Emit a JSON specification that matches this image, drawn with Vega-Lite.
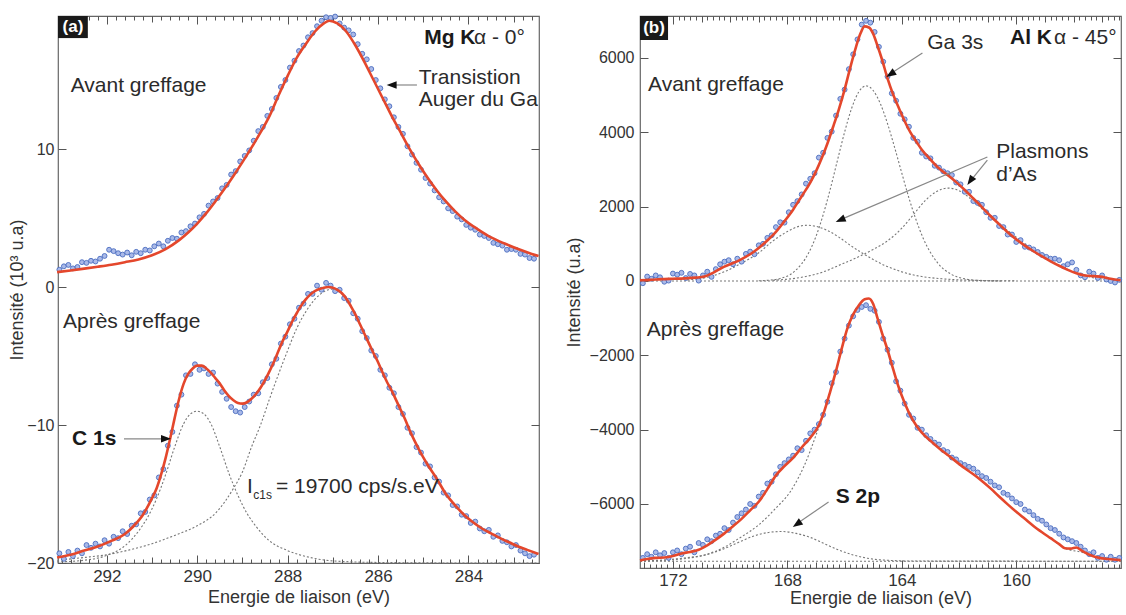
{
"$schema": "https://vega.github.io/schema/vega-lite/v6.json",
"background": "white",
"padding": {"left": 8, "top": 11, "right": 0, "bottom": 0},
"spacing": 19,
"config": {
  "view": {"stroke": "#666", "strokeWidth": 1.2},
  "font": "Liberation Sans",
  "axis": {"domain": false, "grid": false, "labelFont": "Liberation Sans", "labelFontSize": 16, "labelColor": "#333", "titleFont": "Liberation Sans", "titleFontSize": 18, "titleFontWeight": "normal", "titleColor": "#333", "tickColor": "#555", "tickWidth": 1},
  "axisX": {"labelFontSize": 17}
},
"datasets": {
  "a_box": [{"x":293.08,"x2":292.42,"y":19.64,"y2":18.04}],
  "a_lab": [{"x":292.75,"y":18.84,"t":"(a)"}],
  "a_bold": [{"x":284.98,"y":18.04,"t":"Mg K"},{"x":292.77,"y":-11.0,"t":"C 1s"}],
  "a_txt": [{"x":283.88,"y":18.04,"t":"α - 0°"},{"x":292.8,"y":14.57,"t":"Avant greffage"},{"x":285.1,"y":15.17,"t":"Transistion"},{"x":285.1,"y":13.55,"t":"Auger du Ga"},{"x":292.97,"y":-2.54,"t":"Après greffage"},{"x":288.9,"y":-14.49,"t":"I"},{"x":288.26,"y":-14.49,"t":"= 19700 cps/s.eV"}],
  "a_sub": [{"x":288.76,"y":-15.1,"t":"c1s"}],
  "a_arrows": [{"x":285.14,"y":14.64,"x2":285.76,"y2":14.64},{"x":291.62,"y":-11.0,"x2":290.62,"y2":-11.0}],
  "a_heads": [{"x":285.81,"y":14.64,"a":0},{"x":290.58,"y":-11.0,"a":180}],
  "a_fit": [
    {"s":"t","x":293.1,"y":1.08},{"s":"t","x":292.8,"y":1.2},{"s":"t","x":292.5,"y":1.33},{"s":"t","x":292.2,"y":1.47},{"s":"t","x":291.9,"y":1.62},{"s":"t","x":291.6,"y":1.8},{"s":"t","x":291.3,"y":2.0},{"s":"t","x":291.0,"y":2.3},{"s":"t","x":290.7,"y":2.75},{"s":"t","x":290.4,"y":3.4},{"s":"t","x":290.2,"y":3.95},{"s":"t","x":290.0,"y":4.6},{"s":"t","x":289.8,"y":5.35},{"s":"t","x":289.6,"y":6.2},{"s":"t","x":289.4,"y":7.1},{"s":"t","x":289.2,"y":8.05},{"s":"t","x":289.0,"y":9.05},{"s":"t","x":288.8,"y":10.1},{"s":"t","x":288.6,"y":11.2},{"s":"t","x":288.4,"y":12.4},{"s":"t","x":288.2,"y":13.9},{"s":"t","x":288.0,"y":15.3},{"s":"t","x":287.8,"y":16.6},{"s":"t","x":287.6,"y":17.6},{"s":"t","x":287.4,"y":18.5},{"s":"t","x":287.2,"y":19.1},{"s":"t","x":287.08,"y":19.3},{"s":"t","x":286.9,"y":19.1},{"s":"t","x":286.7,"y":18.5},{"s":"t","x":286.5,"y":17.5},{"s":"t","x":286.3,"y":16.3},{"s":"t","x":286.1,"y":15.0},{"s":"t","x":285.9,"y":13.7},{"s":"t","x":285.7,"y":12.4},{"s":"t","x":285.5,"y":11.2},{"s":"t","x":285.3,"y":10.0},{"s":"t","x":285.1,"y":8.9},{"s":"t","x":284.9,"y":7.9},{"s":"t","x":284.7,"y":7.0},{"s":"t","x":284.5,"y":6.2},{"s":"t","x":284.3,"y":5.5},{"s":"t","x":284.1,"y":4.9},{"s":"t","x":283.8,"y":4.2},{"s":"t","x":283.5,"y":3.6},{"s":"t","x":283.2,"y":3.15},{"s":"t","x":282.9,"y":2.75},{"s":"t","x":282.6,"y":2.4},{"s":"t","x":282.45,"y":2.25},
    {"s":"b","x":293.1,"y":-19.6},{"s":"b","x":292.8,"y":-19.4},{"s":"b","x":292.5,"y":-19.1},{"s":"b","x":292.2,"y":-18.8},{"s":"b","x":291.9,"y":-18.4},{"s":"b","x":291.6,"y":-17.9},{"s":"b","x":291.4,"y":-17.3},{"s":"b","x":291.2,"y":-16.5},{"s":"b","x":291.0,"y":-15.3},{"s":"b","x":290.9,"y":-14.6},{"s":"b","x":290.8,"y":-13.6},{"s":"b","x":290.7,"y":-12.4},{"s":"b","x":290.6,"y":-11.0},{"s":"b","x":290.5,"y":-9.5},{"s":"b","x":290.4,"y":-8.1},{"s":"b","x":290.3,"y":-7.0},{"s":"b","x":290.2,"y":-6.3},{"s":"b","x":290.1,"y":-5.9},{"s":"b","x":290.0,"y":-5.7},{"s":"b","x":289.9,"y":-5.7},{"s":"b","x":289.8,"y":-5.9},{"s":"b","x":289.7,"y":-6.2},{"s":"b","x":289.6,"y":-6.6},{"s":"b","x":289.5,"y":-7.0},{"s":"b","x":289.4,"y":-7.5},{"s":"b","x":289.3,"y":-7.9},{"s":"b","x":289.2,"y":-8.2},{"s":"b","x":289.1,"y":-8.4},{"s":"b","x":289.0,"y":-8.45},{"s":"b","x":288.9,"y":-8.35},{"s":"b","x":288.8,"y":-8.1},{"s":"b","x":288.7,"y":-7.75},{"s":"b","x":288.6,"y":-7.3},{"s":"b","x":288.5,"y":-6.75},{"s":"b","x":288.4,"y":-6.1},{"s":"b","x":288.3,"y":-5.4},{"s":"b","x":288.2,"y":-4.6},{"s":"b","x":288.1,"y":-3.85},{"s":"b","x":288.0,"y":-3.2},{"s":"b","x":287.9,"y":-2.5},{"s":"b","x":287.8,"y":-1.9},{"s":"b","x":287.7,"y":-1.35},{"s":"b","x":287.6,"y":-0.9},{"s":"b","x":287.5,"y":-0.55},{"s":"b","x":287.4,"y":-0.3},{"s":"b","x":287.3,"y":-0.15},{"s":"b","x":287.2,"y":-0.05},{"s":"b","x":287.1,"y":0.0},{"s":"b","x":287.0,"y":-0.05},{"s":"b","x":286.9,"y":-0.2},{"s":"b","x":286.8,"y":-0.45},{"s":"b","x":286.7,"y":-0.85},{"s":"b","x":286.6,"y":-1.4},{"s":"b","x":286.5,"y":-2.0},{"s":"b","x":286.4,"y":-2.7},{"s":"b","x":286.3,"y":-3.4},{"s":"b","x":286.2,"y":-4.1},{"s":"b","x":286.1,"y":-4.8},{"s":"b","x":286.0,"y":-5.45},{"s":"b","x":285.9,"y":-6.2},{"s":"b","x":285.8,"y":-6.9},{"s":"b","x":285.7,"y":-7.5},{"s":"b","x":285.6,"y":-8.2},{"s":"b","x":285.5,"y":-8.9},{"s":"b","x":285.4,"y":-9.6},{"s":"b","x":285.3,"y":-10.4},{"s":"b","x":285.2,"y":-11.1},{"s":"b","x":285.1,"y":-11.75},{"s":"b","x":285.0,"y":-12.35},{"s":"b","x":284.9,"y":-12.9},{"s":"b","x":284.7,"y":-13.9},{"s":"b","x":284.5,"y":-15.0},{"s":"b","x":284.3,"y":-15.8},{"s":"b","x":284.1,"y":-16.5},{"s":"b","x":283.9,"y":-17.05},{"s":"b","x":283.7,"y":-17.5},{"s":"b","x":283.5,"y":-17.85},{"s":"b","x":283.3,"y":-18.2},{"s":"b","x":283.1,"y":-18.5},{"s":"b","x":282.9,"y":-18.8},{"s":"b","x":282.7,"y":-19.05},{"s":"b","x":282.45,"y":-19.35}
  ],
  "a_comp": [
    {"s":"c","x":293.1,"y":-19.92},{"s":"c","x":292.5,"y":-19.8},{"s":"c","x":292.0,"y":-19.45},{"s":"c","x":291.6,"y":-18.75},{"s":"c","x":291.3,"y":-17.7},{"s":"c","x":291.1,"y":-16.7},{"s":"c","x":290.9,"y":-15.35},{"s":"c","x":290.7,"y":-13.6},{"s":"c","x":290.5,"y":-11.6},{"s":"c","x":290.3,"y":-9.9},{"s":"c","x":290.15,"y":-9.2},{"s":"c","x":290.0,"y":-9.0},{"s":"c","x":289.85,"y":-9.2},{"s":"c","x":289.7,"y":-9.9},{"s":"c","x":289.5,"y":-11.6},{"s":"c","x":289.3,"y":-13.5},{"s":"c","x":289.1,"y":-15.1},{"s":"c","x":288.9,"y":-16.4},{"s":"c","x":288.7,"y":-17.35},{"s":"c","x":288.4,"y":-18.4},{"s":"c","x":288.0,"y":-19.1},{"s":"c","x":287.5,"y":-19.6},{"s":"c","x":287.0,"y":-19.85},{"s":"c","x":286.0,"y":-19.96},{"s":"c","x":284.0,"y":-20.0},{"s":"c","x":282.45,"y":-20.0},
    {"s":"g","x":293.1,"y":-19.8},{"s":"g","x":292.5,"y":-19.6},{"s":"g","x":292.0,"y":-19.4},{"s":"g","x":291.5,"y":-19.05},{"s":"g","x":291.0,"y":-18.6},{"s":"g","x":290.5,"y":-18.0},{"s":"g","x":290.0,"y":-17.3},{"s":"g","x":289.6,"y":-16.4},{"s":"g","x":289.2,"y":-14.6},{"s":"g","x":289.0,"y":-13.4},{"s":"g","x":288.8,"y":-11.6},{"s":"g","x":288.6,"y":-10.0},{"s":"g","x":288.4,"y":-8.1},{"s":"g","x":288.2,"y":-6.3},{"s":"g","x":288.0,"y":-4.6},{"s":"g","x":287.8,"y":-3.0},{"s":"g","x":287.6,"y":-1.8},{"s":"g","x":287.4,"y":-0.9},{"s":"g","x":287.2,"y":-0.35},{"s":"g","x":287.1,"y":-0.2},{"s":"g","x":287.0,"y":-0.15},{"s":"g","x":286.8,"y":-0.5},{"s":"g","x":286.6,"y":-1.4},{"s":"g","x":286.4,"y":-2.7},{"s":"g","x":286.2,"y":-4.1},{"s":"g","x":286.0,"y":-5.45},{"s":"g","x":285.8,"y":-6.9},{"s":"g","x":285.6,"y":-8.2},{"s":"g","x":285.4,"y":-9.6},{"s":"g","x":285.2,"y":-11.1},{"s":"g","x":285.0,"y":-12.35},{"s":"g","x":284.7,"y":-13.9},{"s":"g","x":284.5,"y":-15.0},{"s":"g","x":284.1,"y":-16.5},{"s":"g","x":283.7,"y":-17.5},{"s":"g","x":283.3,"y":-18.2},{"s":"g","x":282.9,"y":-18.8},{"s":"g","x":282.45,"y":-19.35}
  ],
  "a_pts": [
    {"x":293.05,"y":1.25},{"x":292.95,"y":1.5},{"x":292.85,"y":1.6},{"x":292.75,"y":1.35},{"x":292.65,"y":1.45},{"x":292.55,"y":1.8},{"x":292.45,"y":1.75},{"x":292.35,"y":1.9},{"x":292.25,"y":1.85},{"x":292.15,"y":2.05},{"x":292.05,"y":2.25},{"x":291.95,"y":2.7},{"x":291.85,"y":2.6},{"x":291.75,"y":2.45},{"x":291.65,"y":2.35},{"x":291.55,"y":2.5},{"x":291.45,"y":2.3},{"x":291.35,"y":2.55},{"x":291.25,"y":2.45},{"x":291.15,"y":2.7},{"x":291.05,"y":2.65},{"x":290.95,"y":2.95},{"x":290.85,"y":3.15},{"x":290.75,"y":2.95},{"x":290.65,"y":3.35},{"x":290.55,"y":3.55},{"x":290.45,"y":3.5},{"x":290.35,"y":3.95},{"x":290.25,"y":4.05},{"x":290.15,"y":4.4},{"x":290.05,"y":4.6},{"x":289.95,"y":5.05},{"x":289.85,"y":5.3},{"x":289.75,"y":5.9},{"x":289.65,"y":6.2},{"x":289.55,"y":6.45},{"x":289.45,"y":7.15},{"x":289.35,"y":7.4},{"x":289.25,"y":8.15},{"x":289.15,"y":8.4},{"x":289.05,"y":9.1},{"x":288.95,"y":9.5},{"x":288.85,"y":9.9},{"x":288.75,"y":10.6},{"x":288.65,"y":11.3},{"x":288.55,"y":11.6},{"x":288.45,"y":12.4},{"x":288.35,"y":12.9},{"x":288.25,"y":13.7},{"x":288.15,"y":14.5},{"x":288.05,"y":15.0},{"x":287.95,"y":15.9},{"x":287.85,"y":16.4},{"x":287.75,"y":17.1},{"x":287.65,"y":17.5},{"x":287.55,"y":18.1},{"x":287.45,"y":18.4},{"x":287.35,"y":18.9},{"x":287.25,"y":19.3},{"x":287.15,"y":19.55},{"x":287.05,"y":19.5},{"x":286.95,"y":19.6},{"x":286.85,"y":19.1},{"x":286.75,"y":18.8},{"x":286.65,"y":18.6},{"x":286.55,"y":18.3},{"x":286.45,"y":17.6},{"x":286.35,"y":16.9},{"x":286.25,"y":16.5},{"x":286.15,"y":15.8},{"x":286.05,"y":15.0},{"x":285.95,"y":14.4},{"x":285.85,"y":13.6},{"x":285.75,"y":13.1},{"x":285.65,"y":12.3},{"x":285.55,"y":11.6},{"x":285.45,"y":11.1},{"x":285.35,"y":10.2},{"x":285.25,"y":9.6},{"x":285.15,"y":9.0},{"x":285.05,"y":8.5},{"x":284.95,"y":7.9},{"x":284.85,"y":7.5},{"x":284.75,"y":7.0},{"x":284.65,"y":6.5},{"x":284.55,"y":6.2},{"x":284.45,"y":5.7},{"x":284.35,"y":5.5},{"x":284.25,"y":5.1},{"x":284.15,"y":4.9},{"x":284.05,"y":4.5},{"x":283.95,"y":4.3},{"x":283.85,"y":4.15},{"x":283.75,"y":3.8},{"x":283.65,"y":3.7},{"x":283.55,"y":3.55},{"x":283.45,"y":3.2},{"x":283.35,"y":3.1},{"x":283.25,"y":3.0},{"x":283.15,"y":2.7},{"x":283.05,"y":2.75},{"x":282.95,"y":2.7},{"x":282.85,"y":2.4},{"x":282.75,"y":2.35},{"x":282.65,"y":2.1},{"x":282.55,"y":2.05},
    {"x":293.05,"y":-19.3},{"x":292.95,"y":-19.7},{"x":292.85,"y":-19.2},{"x":292.75,"y":-19.5},{"x":292.65,"y":-19.1},{"x":292.55,"y":-19.3},{"x":292.45,"y":-18.7},{"x":292.35,"y":-18.9},{"x":292.25,"y":-18.6},{"x":292.15,"y":-18.8},{"x":292.05,"y":-18.35},{"x":291.95,"y":-18.6},{"x":291.85,"y":-18.1},{"x":291.75,"y":-18.2},{"x":291.65,"y":-17.7},{"x":291.55,"y":-17.9},{"x":291.45,"y":-17.3},{"x":291.35,"y":-17.2},{"x":291.25,"y":-16.4},{"x":291.15,"y":-16.3},{"x":291.05,"y":-15.4},{"x":290.95,"y":-15.1},{"x":290.85,"y":-13.8},{"x":290.75,"y":-13.2},{"x":290.65,"y":-11.5},{"x":290.55,"y":-10.5},{"x":290.45,"y":-8.6},{"x":290.35,"y":-7.8},{"x":290.25,"y":-6.4},{"x":290.15,"y":-6.3},{"x":290.05,"y":-5.6},{"x":289.95,"y":-6.0},{"x":289.85,"y":-5.9},{"x":289.75,"y":-6.3},{"x":289.65,"y":-6.2},{"x":289.55,"y":-7.0},{"x":289.45,"y":-7.6},{"x":289.35,"y":-8.1},{"x":289.25,"y":-8.7},{"x":289.15,"y":-9.0},{"x":289.05,"y":-9.1},{"x":288.95,"y":-8.7},{"x":288.85,"y":-8.3},{"x":288.75,"y":-7.8},{"x":288.65,"y":-7.7},{"x":288.55,"y":-6.9},{"x":288.45,"y":-6.6},{"x":288.35,"y":-5.6},{"x":288.25,"y":-5.2},{"x":288.15,"y":-4.1},{"x":288.05,"y":-3.6},{"x":287.95,"y":-2.7},{"x":287.85,"y":-2.3},{"x":287.75,"y":-1.5},{"x":287.65,"y":-1.2},{"x":287.55,"y":-0.5},{"x":287.45,"y":-0.5},{"x":287.35,"y":0.1},{"x":287.25,"y":-0.2},{"x":287.15,"y":0.3},{"x":287.05,"y":0.1},{"x":286.95,"y":-0.3},{"x":286.85,"y":-0.2},{"x":286.75,"y":-0.8},{"x":286.65,"y":-1.0},{"x":286.55,"y":-1.9},{"x":286.45,"y":-2.3},{"x":286.35,"y":-3.2},{"x":286.25,"y":-3.7},{"x":286.15,"y":-4.6},{"x":286.05,"y":-5.0},{"x":285.95,"y":-6.0},{"x":285.85,"y":-6.4},{"x":285.75,"y":-7.3},{"x":285.65,"y":-7.7},{"x":285.55,"y":-8.7},{"x":285.45,"y":-9.2},{"x":285.35,"y":-10.2},{"x":285.25,"y":-10.6},{"x":285.15,"y":-11.6},{"x":285.05,"y":-12.0},{"x":284.95,"y":-12.8},{"x":284.85,"y":-13.0},{"x":284.75,"y":-13.8},{"x":284.65,"y":-14.1},{"x":284.55,"y":-14.9},{"x":284.45,"y":-15.1},{"x":284.35,"y":-15.8},{"x":284.25,"y":-15.9},{"x":284.15,"y":-16.5},{"x":284.05,"y":-16.6},{"x":283.95,"y":-17.1},{"x":283.85,"y":-17.0},{"x":283.75,"y":-17.5},{"x":283.65,"y":-17.7},{"x":283.55,"y":-17.6},{"x":283.45,"y":-18.1},{"x":283.35,"y":-18.0},{"x":283.25,"y":-18.4},{"x":283.15,"y":-18.5},{"x":283.05,"y":-18.8},{"x":282.95,"y":-18.7},{"x":282.85,"y":-19.1},{"x":282.75,"y":-19.3},{"x":282.65,"y":-19.5},{"x":282.55,"y":-19.4}
  ],
  "b_box": [{"x":173.15,"x2":172.17,"y":7130,"y2":6484}],
  "b_lab": [{"x":172.66,"y":6807,"t":"(b)"}],
  "b_bold": [{"x":160.22,"y":6537,"t":"Al K"},{"x":166.31,"y":-5811,"t":"S 2p"}],
  "b_txt": [{"x":158.68,"y":6537,"t":"α - 45°"},{"x":163.11,"y":6403,"t":"Ga 3s"},{"x":172.87,"y":5273,"t":"Avant greffage"},{"x":160.7,"y":3470,"t":"Plasmons"},{"x":160.7,"y":2852,"t":"d’As"},{"x":172.91,"y":-1318,"t":"Après greffage"}],
  "b_arrows": [{"x":163.28,"y":6134,"x2":164.45,"y2":5550},{"x":161.01,"y":3336,"x2":166.2,"y2":1630},{"x":161.01,"y":3255,"x2":161.65,"y2":2650},{"x":166.56,"y":-5946,"x2":167.72,"y2":-6560}],
  "b_heads": [{"x":164.54,"y":5488,"a":-33.7},{"x":166.31,"y":1587,"a":-23.2},{"x":161.71,"y":2583,"a":-54.5},{"x":167.81,"y":-6618,"a":-34.8}],
  "b_fit": [
    {"s":"t","x":173.15,"y":20},{"s":"t","x":172.8,"y":30},{"s":"t","x":172.4,"y":50},{"s":"t","x":172.0,"y":60},{"s":"t","x":171.6,"y":70},{"s":"t","x":171.2,"y":90},{"s":"t","x":170.9,"y":120},{"s":"t","x":170.6,"y":220},{"s":"t","x":170.3,"y":350},{"s":"t","x":170.0,"y":450},{"s":"t","x":169.65,"y":570},{"s":"t","x":169.3,"y":720},{"s":"t","x":169.0,"y":890},{"s":"t","x":168.7,"y":1090},{"s":"t","x":168.4,"y":1320},{"s":"t","x":168.1,"y":1610},{"s":"t","x":167.8,"y":1920},{"s":"t","x":167.5,"y":2280},{"s":"t","x":167.2,"y":2650},{"s":"t","x":167.0,"y":2950},{"s":"t","x":166.8,"y":3300},{"s":"t","x":166.6,"y":3700},{"s":"t","x":166.4,"y":4150},{"s":"t","x":166.2,"y":4620},{"s":"t","x":166.0,"y":5150},{"s":"t","x":165.8,"y":5750},{"s":"t","x":165.6,"y":6300},{"s":"t","x":165.45,"y":6650},{"s":"t","x":165.3,"y":6850},{"s":"t","x":165.15,"y":6820},{"s":"t","x":165.0,"y":6650},{"s":"t","x":164.85,"y":6330},{"s":"t","x":164.7,"y":5980},{"s":"t","x":164.5,"y":5450},{"s":"t","x":164.3,"y":5010},{"s":"t","x":164.1,"y":4650},{"s":"t","x":163.9,"y":4300},{"s":"t","x":163.7,"y":4000},{"s":"t","x":163.5,"y":3760},{"s":"t","x":163.3,"y":3530},{"s":"t","x":163.0,"y":3270},{"s":"t","x":162.7,"y":3030},{"s":"t","x":162.4,"y":2850},{"s":"t","x":162.1,"y":2660},{"s":"t","x":161.8,"y":2450},{"s":"t","x":161.5,"y":2220},{"s":"t","x":161.2,"y":1990},{"s":"t","x":160.9,"y":1750},{"s":"t","x":160.6,"y":1530},{"s":"t","x":160.3,"y":1310},{"s":"t","x":160.0,"y":1120},{"s":"t","x":159.7,"y":950},{"s":"t","x":159.4,"y":800},{"s":"t","x":159.1,"y":660},{"s":"t","x":158.8,"y":530},{"s":"t","x":158.5,"y":410},{"s":"t","x":158.2,"y":300},{"s":"t","x":157.9,"y":210},{"s":"t","x":157.6,"y":150},{"s":"t","x":157.3,"y":130},{"s":"t","x":157.0,"y":110},{"s":"t","x":156.7,"y":60},{"s":"t","x":156.35,"y":20},
    {"s":"b","x":173.15,"y":-7520},{"s":"b","x":172.9,"y":-7480},{"s":"b","x":172.6,"y":-7450},{"s":"b","x":172.3,"y":-7440},{"s":"b","x":172.0,"y":-7400},{"s":"b","x":171.7,"y":-7330},{"s":"b","x":171.4,"y":-7290},{"s":"b","x":171.1,"y":-7230},{"s":"b","x":170.8,"y":-7110},{"s":"b","x":170.5,"y":-6960},{"s":"b","x":170.2,"y":-6790},{"s":"b","x":169.9,"y":-6600},{"s":"b","x":169.6,"y":-6400},{"s":"b","x":169.3,"y":-6170},{"s":"b","x":169.0,"y":-5940},{"s":"b","x":168.7,"y":-5600},{"s":"b","x":168.4,"y":-5230},{"s":"b","x":168.1,"y":-4980},{"s":"b","x":167.8,"y":-4760},{"s":"b","x":167.5,"y":-4480},{"s":"b","x":167.2,"y":-4220},{"s":"b","x":166.9,"y":-3880},{"s":"b","x":166.7,"y":-3480},{"s":"b","x":166.5,"y":-2970},{"s":"b","x":166.3,"y":-2420},{"s":"b","x":166.1,"y":-1820},{"s":"b","x":165.9,"y":-1270},{"s":"b","x":165.7,"y":-900},{"s":"b","x":165.5,"y":-650},{"s":"b","x":165.3,"y":-490},{"s":"b","x":165.15,"y":-470},{"s":"b","x":165.0,"y":-620},{"s":"b","x":164.85,"y":-1000},{"s":"b","x":164.7,"y":-1380},{"s":"b","x":164.5,"y":-1850},{"s":"b","x":164.3,"y":-2380},{"s":"b","x":164.1,"y":-2880},{"s":"b","x":163.9,"y":-3280},{"s":"b","x":163.7,"y":-3620},{"s":"b","x":163.5,"y":-3880},{"s":"b","x":163.3,"y":-4080},{"s":"b","x":163.0,"y":-4300},{"s":"b","x":162.7,"y":-4500},{"s":"b","x":162.4,"y":-4680},{"s":"b","x":162.1,"y":-4860},{"s":"b","x":161.8,"y":-5040},{"s":"b","x":161.5,"y":-5200},{"s":"b","x":161.2,"y":-5380},{"s":"b","x":160.9,"y":-5580},{"s":"b","x":160.6,"y":-5800},{"s":"b","x":160.3,"y":-6010},{"s":"b","x":160.0,"y":-6210},{"s":"b","x":159.7,"y":-6400},{"s":"b","x":159.4,"y":-6590},{"s":"b","x":159.1,"y":-6760},{"s":"b","x":158.8,"y":-6920},{"s":"b","x":158.5,"y":-7080},{"s":"b","x":158.3,"y":-7190},{"s":"b","x":158.1,"y":-7200},{"s":"b","x":157.9,"y":-7170},{"s":"b","x":157.7,"y":-7260},{"s":"b","x":157.4,"y":-7380},{"s":"b","x":157.1,"y":-7450},{"s":"b","x":156.8,"y":-7480},{"s":"b","x":156.35,"y":-7510}
  ],
  "b_comp": [
    {"s":"ga","x":169.0,"y":5},{"s":"ga","x":168.75,"y":15},{"s":"ga","x":168.25,"y":69},{"s":"ga","x":167.75,"y":258},{"s":"ga","x":167.25,"y":765},{"s":"ga","x":167.0,"y":1200},{"s":"ga","x":166.75,"y":1778},{"s":"ga","x":166.5,"y":2475},{"s":"ga","x":166.25,"y":3245},{"s":"ga","x":166.0,"y":4005},{"s":"ga","x":165.75,"y":4655},{"s":"ga","x":165.5,"y":5095},{"s":"ga","x":165.25,"y":5250},{"s":"ga","x":165.0,"y":5125},{"s":"ga","x":164.75,"y":4770},{"s":"ga","x":164.5,"y":4235},{"s":"ga","x":164.25,"y":3590},{"s":"ga","x":164.0,"y":2900},{"s":"ga","x":163.75,"y":2230},{"s":"ga","x":163.5,"y":1640},{"s":"ga","x":163.25,"y":1145},{"s":"ga","x":162.75,"y":488},{"s":"ga","x":162.25,"y":171},{"s":"ga","x":161.75,"y":50},{"s":"ga","x":161.25,"y":12},{"s":"ga","x":160.5,"y":0},
    {"s":"p1","x":171.5,"y":30},{"s":"p1","x":170.8,"y":100},{"s":"p1","x":170.2,"y":250},{"s":"p1","x":169.6,"y":480},{"s":"p1","x":169.0,"y":760},{"s":"p1","x":168.5,"y":1080},{"s":"p1","x":168.0,"y":1330},{"s":"p1","x":167.6,"y":1470},{"s":"p1","x":167.3,"y":1500},{"s":"p1","x":167.0,"y":1470},{"s":"p1","x":166.6,"y":1360},{"s":"p1","x":166.2,"y":1180},{"s":"p1","x":165.8,"y":960},{"s":"p1","x":165.4,"y":760},{"s":"p1","x":165.0,"y":580},{"s":"p1","x":164.6,"y":420},{"s":"p1","x":164.2,"y":300},{"s":"p1","x":163.8,"y":200},{"s":"p1","x":163.3,"y":120},{"s":"p1","x":162.6,"y":60},{"s":"p1","x":161.5,"y":20},{"s":"p1","x":160.0,"y":5},
    {"s":"p2","x":168.5,"y":20},{"s":"p2","x":167.5,"y":100},{"s":"p2","x":166.8,"y":230},{"s":"p2","x":166.2,"y":420},{"s":"p2","x":165.6,"y":620},{"s":"p2","x":165.0,"y":850},{"s":"p2","x":164.5,"y":1080},{"s":"p2","x":164.0,"y":1420},{"s":"p2","x":163.6,"y":1780},{"s":"p2","x":163.2,"y":2150},{"s":"p2","x":162.8,"y":2400},{"s":"p2","x":162.4,"y":2500},{"s":"p2","x":162.0,"y":2430},{"s":"p2","x":161.5,"y":2150},{"s":"p2","x":161.0,"y":1800},{"s":"p2","x":160.5,"y":1480},{"s":"p2","x":160.0,"y":1180},{"s":"p2","x":159.5,"y":900},{"s":"p2","x":159.0,"y":640},{"s":"p2","x":158.5,"y":420},{"s":"p2","x":158.0,"y":250},{"s":"p2","x":157.5,"y":120},{"s":"p2","x":157.0,"y":50},{"s":"p2","x":156.4,"y":20},
    {"s":"base","x":173.15,"y":0},{"s":"base","x":156.34,"y":0},
    {"s":"m2","x":173.15,"y":-7530},{"s":"m2","x":172.2,"y":-7500},{"s":"m2","x":171.5,"y":-7440},{"s":"m2","x":170.9,"y":-7370},{"s":"m2","x":170.3,"y":-7200},{"s":"m2","x":169.7,"y":-6930},{"s":"m2","x":169.0,"y":-6560},{"s":"m2","x":168.4,"y":-6110},{"s":"m2","x":167.9,"y":-5670},{"s":"m2","x":167.4,"y":-4950},{"s":"m2","x":167.0,"y":-4150},{"s":"m2","x":166.75,"y":-3600},{"s":"m2","x":166.5,"y":-2970},{"s":"m2","x":166.3,"y":-2420},{"s":"m2","x":166.1,"y":-1820},{"s":"m2","x":165.9,"y":-1270},{"s":"m2","x":165.7,"y":-900},{"s":"m2","x":165.5,"y":-650},{"s":"m2","x":165.3,"y":-490},{"s":"m2","x":165.15,"y":-470},{"s":"m2","x":165.0,"y":-620},{"s":"m2","x":164.85,"y":-1000},{"s":"m2","x":164.7,"y":-1380},{"s":"m2","x":164.5,"y":-1850},{"s":"m2","x":164.3,"y":-2380},{"s":"m2","x":164.1,"y":-2880},{"s":"m2","x":163.9,"y":-3280},{"s":"m2","x":163.7,"y":-3620},{"s":"m2","x":163.5,"y":-3880},{"s":"m2","x":163.3,"y":-4080},{"s":"m2","x":163.0,"y":-4300},{"s":"m2","x":162.4,"y":-4680},{"s":"m2","x":161.8,"y":-5040},{"s":"m2","x":161.2,"y":-5380},{"s":"m2","x":160.6,"y":-5800},{"s":"m2","x":160.0,"y":-6210},{"s":"m2","x":159.4,"y":-6590},{"s":"m2","x":158.8,"y":-6920},{"s":"m2","x":158.3,"y":-7190},{"s":"m2","x":157.7,"y":-7300},{"s":"m2","x":157.1,"y":-7450},{"s":"m2","x":156.35,"y":-7510},
    {"s":"s2p","x":173.15,"y":-7535},{"s":"s2p","x":172.2,"y":-7510},{"s":"s2p","x":171.5,"y":-7460},{"s":"s2p","x":170.9,"y":-7380},{"s":"s2p","x":170.3,"y":-7230},{"s":"s2p","x":169.7,"y":-7030},{"s":"s2p","x":169.2,"y":-6870},{"s":"s2p","x":168.7,"y":-6770},{"s":"s2p","x":168.2,"y":-6740},{"s":"s2p","x":167.7,"y":-6790},{"s":"s2p","x":167.2,"y":-6900},{"s":"s2p","x":166.7,"y":-7070},{"s":"s2p","x":166.2,"y":-7240},{"s":"s2p","x":165.7,"y":-7370},{"s":"s2p","x":165.2,"y":-7460},{"s":"s2p","x":164.5,"y":-7515},{"s":"s2p","x":163.5,"y":-7535},{"s":"s2p","x":156.35,"y":-7540},
    {"s":"base2","x":173.15,"y":-7540},{"s":"base2","x":156.34,"y":-7540}
  ],
  "b_pts": [
    {"x":173.05,"y":-60},{"x":172.9,"y":120},{"x":172.75,"y":60},{"x":172.6,"y":150},{"x":172.45,"y":100},{"x":172.3,"y":-20},{"x":172.15,"y":10},{"x":172.0,"y":200},{"x":171.85,"y":170},{"x":171.7,"y":220},{"x":171.55,"y":80},{"x":171.4,"y":190},{"x":171.25,"y":150},{"x":171.1,"y":10},{"x":170.95,"y":150},{"x":170.8,"y":250},{"x":170.65,"y":110},{"x":170.5,"y":320},{"x":170.35,"y":450},{"x":170.2,"y":520},{"x":170.05,"y":560},{"x":169.9,"y":450},{"x":169.75,"y":600},{"x":169.6,"y":520},{"x":169.45,"y":730},{"x":169.3,"y":790},{"x":169.15,"y":720},{"x":169.0,"y":960},{"x":168.85,"y":1000},{"x":168.7,"y":1160},{"x":168.55,"y":1230},{"x":168.4,"y":1450},{"x":168.25,"y":1580},{"x":168.1,"y":1570},{"x":167.95,"y":1850},{"x":167.8,"y":2050},{"x":167.65,"y":2150},{"x":167.5,"y":2330},{"x":167.35,"y":2620},{"x":167.2,"y":2750},{"x":167.05,"y":2900},{"x":166.9,"y":3320},{"x":166.75,"y":3450},{"x":166.6,"y":3850},{"x":166.45,"y":4020},{"x":166.3,"y":4450},{"x":166.15,"y":4900},{"x":166.0,"y":5150},{"x":165.85,"y":5700},{"x":165.7,"y":6100},{"x":165.55,"y":6500},{"x":165.4,"y":6900},{"x":165.25,"y":7000},{"x":165.1,"y":6950},{"x":164.95,"y":6700},{"x":164.8,"y":6300},{"x":164.65,"y":5900},{"x":164.5,"y":5500},{"x":164.35,"y":5050},{"x":164.2,"y":4850},{"x":164.05,"y":4500},{"x":163.9,"y":4350},{"x":163.75,"y":4150},{"x":163.6,"y":3850},{"x":163.45,"y":3750},{"x":163.3,"y":3450},{"x":163.15,"y":3350},{"x":163.0,"y":3300},{"x":162.85,"y":3100},{"x":162.7,"y":3050},{"x":162.55,"y":2950},{"x":162.4,"y":2900},{"x":162.25,"y":2850},{"x":162.1,"y":2650},{"x":161.95,"y":2600},{"x":161.8,"y":2400},{"x":161.65,"y":2400},{"x":161.5,"y":2150},{"x":161.35,"y":2100},{"x":161.2,"y":2050},{"x":161.05,"y":1850},{"x":160.9,"y":1700},{"x":160.75,"y":1700},{"x":160.6,"y":1480},{"x":160.45,"y":1450},{"x":160.3,"y":1250},{"x":160.15,"y":1250},{"x":160.0,"y":1050},{"x":159.85,"y":1100},{"x":159.7,"y":920},{"x":159.55,"y":900},{"x":159.4,"y":850},{"x":159.25,"y":780},{"x":159.1,"y":700},{"x":158.95,"y":650},{"x":158.8,"y":600},{"x":158.65,"y":600},{"x":158.5,"y":560},{"x":158.35,"y":400},{"x":158.2,"y":450},{"x":158.05,"y":500},{"x":157.9,"y":300},{"x":157.75,"y":150},{"x":157.6,"y":100},{"x":157.45,"y":250},{"x":157.3,"y":200},{"x":157.15,"y":80},{"x":157.0,"y":150},{"x":156.85,"y":40},{"x":156.7,"y":0},{"x":156.55,"y":-40},{"x":156.4,"y":30},
    {"x":173.05,"y":-7450},{"x":172.9,"y":-7350},{"x":172.75,"y":-7420},{"x":172.6,"y":-7300},{"x":172.45,"y":-7380},{"x":172.3,"y":-7320},{"x":172.15,"y":-7450},{"x":172.0,"y":-7300},{"x":171.85,"y":-7250},{"x":171.7,"y":-7350},{"x":171.55,"y":-7200},{"x":171.4,"y":-7150},{"x":171.25,"y":-7300},{"x":171.1,"y":-7050},{"x":170.95,"y":-7100},{"x":170.8,"y":-6950},{"x":170.65,"y":-7000},{"x":170.5,"y":-6850},{"x":170.35,"y":-6800},{"x":170.2,"y":-6650},{"x":170.05,"y":-6700},{"x":169.9,"y":-6500},{"x":169.75,"y":-6350},{"x":169.6,"y":-6250},{"x":169.45,"y":-6150},{"x":169.3,"y":-6000},{"x":169.15,"y":-6050},{"x":169.0,"y":-5800},{"x":168.85,"y":-5700},{"x":168.7,"y":-5450},{"x":168.55,"y":-5400},{"x":168.4,"y":-5200},{"x":168.25,"y":-5000},{"x":168.1,"y":-4900},{"x":167.95,"y":-4800},{"x":167.8,"y":-4700},{"x":167.65,"y":-4500},{"x":167.5,"y":-4550},{"x":167.35,"y":-4300},{"x":167.2,"y":-4100},{"x":167.05,"y":-4000},{"x":166.9,"y":-3850},{"x":166.75,"y":-3600},{"x":166.6,"y":-3250},{"x":166.45,"y":-2750},{"x":166.3,"y":-2450},{"x":166.15,"y":-1900},{"x":166.0,"y":-1550},{"x":165.85,"y":-1200},{"x":165.7,"y":-950},{"x":165.55,"y":-780},{"x":165.4,"y":-700},{"x":165.25,"y":-650},{"x":165.1,"y":-750},{"x":164.95,"y":-800},{"x":164.8,"y":-1100},{"x":164.65,"y":-1550},{"x":164.5,"y":-1850},{"x":164.35,"y":-2200},{"x":164.2,"y":-2700},{"x":164.05,"y":-2950},{"x":163.9,"y":-3300},{"x":163.75,"y":-3600},{"x":163.6,"y":-3700},{"x":163.45,"y":-3950},{"x":163.3,"y":-4000},{"x":163.15,"y":-4150},{"x":163.0,"y":-4250},{"x":162.85,"y":-4350},{"x":162.7,"y":-4400},{"x":162.55,"y":-4550},{"x":162.4,"y":-4600},{"x":162.25,"y":-4750},{"x":162.1,"y":-4800},{"x":161.95,"y":-4900},{"x":161.8,"y":-4950},{"x":161.65,"y":-5000},{"x":161.5,"y":-5050},{"x":161.35,"y":-5150},{"x":161.2,"y":-5250},{"x":161.05,"y":-5300},{"x":160.9,"y":-5400},{"x":160.75,"y":-5500},{"x":160.6,"y":-5550},{"x":160.45,"y":-5700},{"x":160.3,"y":-5750},{"x":160.15,"y":-5850},{"x":160.0,"y":-5950},{"x":159.85,"y":-6000},{"x":159.7,"y":-6150},{"x":159.55,"y":-6200},{"x":159.4,"y":-6300},{"x":159.25,"y":-6400},{"x":159.1,"y":-6450},{"x":158.95,"y":-6550},{"x":158.8,"y":-6650},{"x":158.65,"y":-6700},{"x":158.5,"y":-6800},{"x":158.35,"y":-6900},{"x":158.2,"y":-6950},{"x":158.05,"y":-7000},{"x":157.9,"y":-7050},{"x":157.75,"y":-7150},{"x":157.6,"y":-7250},{"x":157.45,"y":-7350},{"x":157.3,"y":-7300},{"x":157.15,"y":-7450},{"x":157.0,"y":-7400},{"x":156.85,"y":-7500},{"x":156.7,"y":-7420},{"x":156.55,"y":-7500},{"x":156.4,"y":-7450}
  ]
},
"hconcat": [
  {
    "width": 481, "height": 547,
    "encoding": {
      "x": {"field":"x","type":"quantitative","scale":{"domain":[282.44,293.08],"reverse":true,"nice":false,"zero":false},"axis":null},
      "y": {"field":"y","type":"quantitative","scale":{"domain":[-20,19.64],"nice":false,"zero":false},"axis":null}
    },
    "layer": [
      {"data":{"name":"a_box"},"mark":{"type":"rect","color":"#1a1a1a"},
       "encoding":{
         "x":{"field":"x","type":"quantitative","scale":{"domain":[282.44,293.08],"reverse":true,"nice":false,"zero":false},"axis":{"orient":"bottom","values":[284,286,288,290,292],"ticks":false,"labelPadding":5,"title":"Energie de liaison (eV)","titlePadding":4}},
         "x2":{"field":"x2"},
         "y":{"field":"y","type":"quantitative","scale":{"domain":[-20,19.64],"nice":false,"zero":false},"axis":{"orient":"left","values":[-20,-10,0,10],"ticks":false,"labelPadding":4,"title":"Intensité (10³ u.a)","titlePadding":0}},
         "y2":{"field":"y2"}}},
      {"data":{"name":"a_comp"},"mark":{"type":"line","color":"#777","strokeWidth":1.1,"strokeDash":[2,2],"interpolate":"monotone"},
       "encoding":{
         "x":{"field":"x","type":"quantitative","scale":{"domain":[282.44,293.08],"reverse":true,"nice":false,"zero":false},"axis":{"orient":"bottom","values":[284,286,288,290,292],"tickSize":-8,"labels":false,"title":null}},
         "y":{"field":"y","type":"quantitative","scale":{"domain":[-20,19.64],"nice":false,"zero":false},"axis":{"orient":"left","values":[-20,-10,0,10],"tickSize":-8,"labels":false,"title":null}},
         "detail":{"field":"s"},"order":{"field":"x","sort":"descending"}}},
      {"data":{"name":"a_pts"},"mark":{"type":"point","shape":"circle","filled":true,"fill":"#a9b9e8","stroke":"#4a6cc0","strokeWidth":0.9,"size":24,"opacity":1},
       "encoding":{
         "x":{"field":"x","type":"quantitative","scale":{"domain":[282.44,293.08],"reverse":true,"nice":false,"zero":false},"axis":{"orient":"bottom","tickCount":10,"tickSize":-6,"labels":false,"title":null}},
         "y":{"field":"y","type":"quantitative","scale":{"domain":[-20,19.64],"nice":false,"zero":false},"axis":{"orient":"right","values":[-20,-10,0,10],"tickSize":-8,"labels":false,"title":null}}}},
      {"data":{"name":"a_fit"},"mark":{"type":"line","color":"#e4472c","strokeWidth":2.6,"interpolate":"monotone"},
       "encoding":{
         "x":{"field":"x","type":"quantitative","scale":{"domain":[282.44,293.08],"reverse":true,"nice":false,"zero":false},"axis":{"orient":"bottom","tickCount":50,"tickSize":-4,"labels":false,"title":null}},
         "detail":{"field":"s"},"order":{"field":"x","sort":"descending"}}},
      {"data":{"name":"a_arrows"},"mark":{"type":"rule","color":"#888","strokeWidth":1.2},
       "encoding":{
         "x":{"field":"x","type":"quantitative","scale":{"domain":[282.44,293.08],"reverse":true,"nice":false,"zero":false},"axis":{"orient":"top","values":[284,286,288,290,292],"tickSize":-8,"labels":false,"title":null}},
         "x2":{"field":"x2"},"y2":{"field":"y2"}}},
      {"data":{"name":"a_heads"},"mark":{"type":"point","shape":"M0,0L1,-0.38L1,0.38Z","filled":true,"color":"#111","size":400,"opacity":1},
       "encoding":{
         "x":{"field":"x","type":"quantitative","scale":{"domain":[282.44,293.08],"reverse":true,"nice":false,"zero":false},"axis":{"orient":"top","tickCount":10,"tickSize":-6,"labels":false,"title":null}},
         "angle":{"field":"a","type":"quantitative","scale":null}}},
      {"data":{"name":"a_txt"},"mark":{"type":"text","align":"left","baseline":"middle","fontSize":21,"color":"#2b2b2b"},
       "encoding":{
         "x":{"field":"x","type":"quantitative","scale":{"domain":[282.44,293.08],"reverse":true,"nice":false,"zero":false},"axis":{"orient":"top","tickCount":50,"tickSize":-4,"labels":false,"title":null}},
         "text":{"field":"t"}}},
      {"data":{"name":"a_bold"},"mark":{"type":"text","align":"left","baseline":"middle","fontSize":21,"fontWeight":"bold","color":"#1a1a1a"},"encoding":{"text":{"field":"t"}}},
      {"data":{"name":"a_lab"},"mark":{"type":"text","align":"center","baseline":"middle","fontSize":17,"fontWeight":"bold","color":"white"},"encoding":{"text":{"field":"t"}}},
      {"data":{"name":"a_sub"},"mark":{"type":"text","align":"left","baseline":"middle","fontSize":12,"color":"#2b2b2b"},"encoding":{"text":{"field":"t"}}}
    ],
    "resolve": {"axis": {"x":"independent","y":"independent"}}
  },
  {
    "width": 481, "height": 552,
    "encoding": {
      "x": {"field":"x","type":"quantitative","scale":{"domain":[156.34,173.15],"reverse":true,"nice":false,"zero":false},"axis":null},
      "y": {"field":"y","type":"quantitative","scale":{"domain":[-7722,7130],"nice":false,"zero":false},"axis":null}
    },
    "layer": [
      {"data":{"name":"b_box"},"mark":{"type":"rect","color":"#1a1a1a"},
       "encoding":{
         "x":{"field":"x","type":"quantitative","scale":{"domain":[156.34,173.15],"reverse":true,"nice":false,"zero":false},"axis":{"orient":"bottom","values":[160,164,168,172],"ticks":false,"labelPadding":4,"title":"Energie de liaison (eV)","titlePadding":1}},
         "x2":{"field":"x2"},
         "y":{"field":"y","type":"quantitative","scale":{"domain":[-7722,7130],"nice":false,"zero":false},"axis":{"orient":"left","values":[-6000,-4000,-2000,0,2000,4000,6000],"format":"d","ticks":false,"labelPadding":6,"title":"Intensité (u.a)","titlePadding":6}},
         "y2":{"field":"y2"}}},
      {"data":{"name":"b_comp"},"mark":{"type":"line","color":"#777","strokeWidth":1.1,"strokeDash":[2,2],"interpolate":"monotone"},
       "encoding":{
         "x":{"field":"x","type":"quantitative","scale":{"domain":[156.34,173.15],"reverse":true,"nice":false,"zero":false},"axis":{"orient":"bottom","values":[160,164,168,172],"tickSize":-8,"labels":false,"title":null}},
         "y":{"field":"y","type":"quantitative","scale":{"domain":[-7722,7130],"nice":false,"zero":false},"axis":{"orient":"left","values":[-6000,-4000,-2000,0,2000,4000,6000],"tickSize":-8,"labels":false,"title":null}},
         "detail":{"field":"s"},"order":{"field":"x","sort":"descending"}}},
      {"data":{"name":"b_pts"},"mark":{"type":"point","shape":"circle","filled":true,"fill":"#a9b9e8","stroke":"#4a6cc0","strokeWidth":0.9,"size":24,"opacity":1},
       "encoding":{
         "x":{"field":"x","type":"quantitative","scale":{"domain":[156.34,173.15],"reverse":true,"nice":false,"zero":false},"axis":{"orient":"bottom","tickCount":17,"tickSize":-6,"labels":false,"title":null}},
         "y":{"field":"y","type":"quantitative","scale":{"domain":[-7722,7130],"nice":false,"zero":false},"axis":{"orient":"right","values":[-6000,-4000,-2000,0,2000,4000,6000],"tickSize":-8,"labels":false,"title":null}}}},
      {"data":{"name":"b_fit"},"mark":{"type":"line","color":"#e4472c","strokeWidth":2.6,"interpolate":"monotone"},
       "encoding":{
         "x":{"field":"x","type":"quantitative","scale":{"domain":[156.34,173.15],"reverse":true,"nice":false,"zero":false},"axis":{"orient":"bottom","tickCount":84,"tickSize":-4,"labels":false,"title":null}},
         "detail":{"field":"s"},"order":{"field":"x","sort":"descending"}}},
      {"data":{"name":"b_arrows"},"mark":{"type":"rule","color":"#888","strokeWidth":1.2},
       "encoding":{
         "x":{"field":"x","type":"quantitative","scale":{"domain":[156.34,173.15],"reverse":true,"nice":false,"zero":false},"axis":{"orient":"top","values":[160,164,168,172],"tickSize":-8,"labels":false,"title":null}},
         "x2":{"field":"x2"},"y2":{"field":"y2"}}},
      {"data":{"name":"b_heads"},"mark":{"type":"point","shape":"M0,0L1,-0.38L1,0.38Z","filled":true,"color":"#111","size":400,"opacity":1},
       "encoding":{
         "x":{"field":"x","type":"quantitative","scale":{"domain":[156.34,173.15],"reverse":true,"nice":false,"zero":false},"axis":{"orient":"top","tickCount":17,"tickSize":-6,"labels":false,"title":null}},
         "angle":{"field":"a","type":"quantitative","scale":null}}},
      {"data":{"name":"b_txt"},"mark":{"type":"text","align":"left","baseline":"middle","fontSize":21,"color":"#2b2b2b"},
       "encoding":{
         "x":{"field":"x","type":"quantitative","scale":{"domain":[156.34,173.15],"reverse":true,"nice":false,"zero":false},"axis":{"orient":"top","tickCount":84,"tickSize":-4,"labels":false,"title":null}},
         "text":{"field":"t"}}},
      {"data":{"name":"b_bold"},"mark":{"type":"text","align":"left","baseline":"middle","fontSize":21,"fontWeight":"bold","color":"#1a1a1a"},"encoding":{"text":{"field":"t"}}},
      {"data":{"name":"b_lab"},"mark":{"type":"text","align":"center","baseline":"middle","fontSize":17,"fontWeight":"bold","color":"white"},"encoding":{"text":{"field":"t"}}}
    ],
    "resolve": {"axis": {"x":"independent","y":"independent"}}
  }
]
}
